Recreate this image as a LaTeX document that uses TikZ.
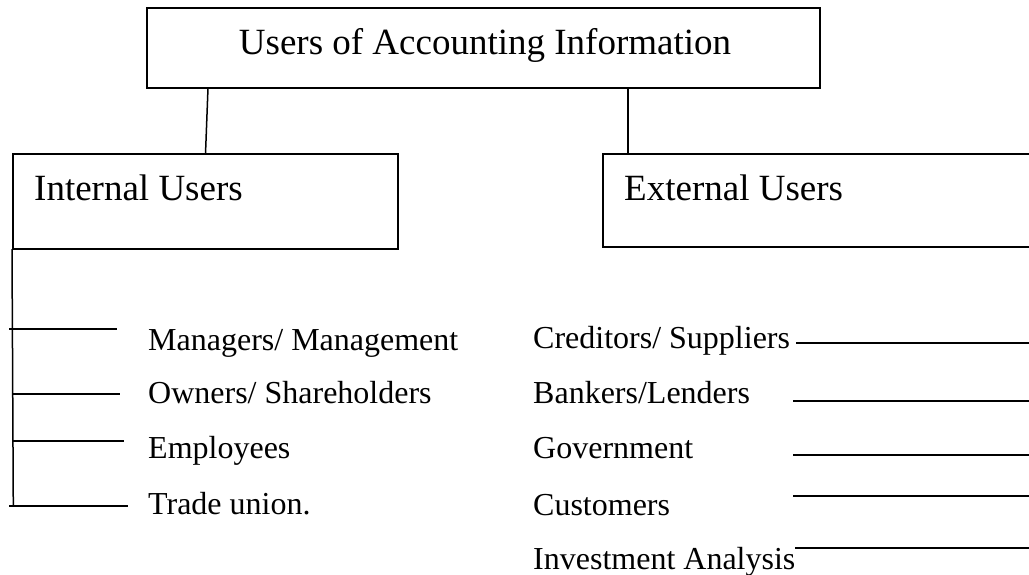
\documentclass[tikz,border=0pt]{standalone}
\usepackage{fontspec}
\setmainfont{Liberation Serif}
\usetikzlibrary{calc}
\begin{document}
\begin{tikzpicture}[x=1pt,y=-1pt,
  box/.style={draw, line width=1.9pt, rectangle, inner sep=0pt, outer sep=0pt},
  big/.style={font=\fontsize{37}{40}\selectfont, inner sep=0pt},
  item/.style={font=\fontsize{32}{36}\selectfont, inner sep=0pt, anchor=base west},
  link/.style={line width=1.5pt}]
\useasboundingbox (0,0) rectangle (1029,575);
\clip (0,0) rectangle (1029,575);
% boxes
\node[box, minimum width=673pt, minimum height=80pt] (top) at (483.5,48) {};
\node[box, minimum width=385pt, minimum height=95pt] (int) at (205.5,201.5) {};
\node[box, minimum width=442pt, minimum height=93pt] (ext) at (824,200.5) {};
% box texts
\node[big, anchor=base] (toptxt) at (485,54.5) {Users of Accounting Information};
\node[big, anchor=base west] (inttxt) at (34,200.5) {Internal Users};
\node[big, anchor=base west] (exttxt) at (624,200.5) {External Users};
% connectors from top box
\draw[link] ([xshift=61pt]top.south west) -- ([xshift=192.5pt]int.north west);
\draw[link] ([xshift=481pt]top.south west) -- ([xshift=25pt]ext.north west);
% internal items
\node[item] (m1) at (148,350) {Managers/ Management};
\node[item] (m2) at (148,403) {Owners/ Shareholders};
\node[item] (m3) at (148,458) {Employees};
\node[item] (m4) at (148,514.5) {Trade union.};
% external items
\node[item] (e1) at (533,348.5) {Creditors/ Suppliers};
\node[item] (e2) at (533,403) {Bankers/Lenders};
\node[item] (e3) at (533,458) {Government};
\node[item] (e4) at (533,515) {Customers};
\node[item] (e5) at (533,569) {Investment Analysis};
% internal bracket
\coordinate (bt) at (12,249);
\coordinate (bb) at (13.3,506.6);
\draw[link] (bt) -- (bb);
\coordinate (t1a) at (9,329);   \coordinate (t1b) at (117,329);
\coordinate (t2a) at (13,394);  \coordinate (t2b) at (120,394);
\coordinate (t3a) at (13,441);  \coordinate (t3b) at (124,441);
\coordinate (t4a) at (9,506);   \coordinate (t4b) at (128,506);
\draw[link] (t1a) -- (t1b);
\draw[link] (t2a) -- (t2b);
\draw[link] (t3a) -- (t3b);
\draw[link] (t4a) -- (t4b);
% external lines
\coordinate (r1a) at (796,343); \coordinate (r1b) at (1035,343);
\coordinate (r2a) at (793,401); \coordinate (r2b) at (1035,401);
\coordinate (r3a) at (793,455); \coordinate (r3b) at (1035,455);
\coordinate (r4a) at (793,496); \coordinate (r4b) at (1035,496);
\coordinate (r5a) at (795,548); \coordinate (r5b) at (1035,548);
\draw[link] (r1a) -- (r1b);
\draw[link] (r2a) -- (r2b);
\draw[link] (r3a) -- (r3b);
\draw[link] (r4a) -- (r4b);
\draw[link] (r5a) -- (r5b);
\end{tikzpicture}
\end{document}
